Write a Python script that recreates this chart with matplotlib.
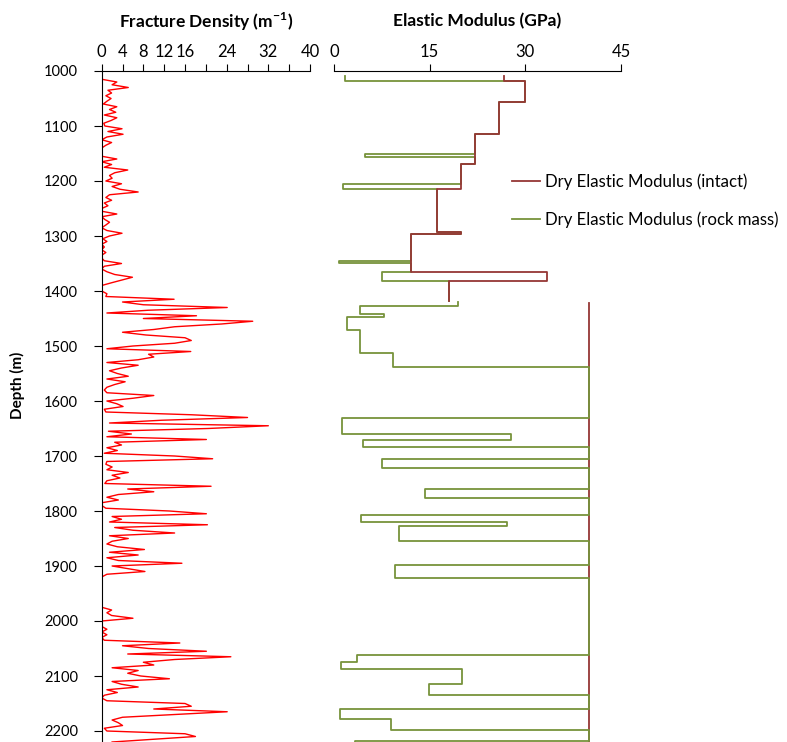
import numpy as np
import matplotlib.pyplot as plt

plt.rcParams['font.family'] = ['Lato', 'DejaVu Sans']
plt.rcParams['mathtext.fontset'] = 'custom'
plt.rcParams['mathtext.rm'] = 'Lato'
plt.rcParams['mathtext.bf'] = 'Lato:bold'

# fracture density (1/m), sampled every 5 m from 1010 m
frac_depth = np.arange(1010, 2225, 5)
frac_density = [
    0, 0, 2.9, 2.0, 5.1, 1.2, 1.9, 0.8, 1.8, 1.0,
    0.3, 2.9, 1.5, 2.7, 0.5, 2.9, 1.8, 0.4, 0.6, 3.9,
    1.2, 4.1, 1.0, 0, 1.9, 0.8, 0, 0, 0, 0,
    2.9, 0, 1.9, 0.5, 5.0, 2.5, 1.5, 2.0, 0.8, 3.8,
    2.0, 3.5, 7.0, 1.5, 0.8, 1.9, 0.5, 1.2, 0, 0,
    2.9, 0, 0.6, 1.5, 0.8, 0, 1.0, 3.9, 1.5, 0.2,
    1.0, 0, 0.5, 0, 0.8, 0, 0, 0.5, 3.8, 0.5,
    0, 1.0, 2.5, 5.9, 3.9, 1.9, 0, 0, 0, 1.0,
    0.8, 13.9, 4.0, 8.0, 24.1, 8.9, 1.0, 18.2, 8.0, 29.0,
    23.0, 14.0, 10.0, 4.0, 8.5, 16.0, 17.2, 14.0, 6.0, 1.0,
    17.1, 9.0, 10.0, 7.0, 1.0, 7.0, 3.8, 1.5, 3.0, 5.1,
    1.0, 4.5, 2.5, 1.0, 0.5, 1.0, 10.0, 6.0, 1.0, 2.9,
    4.1, 0.5, 0.8, 17.2, 28.0, 11.5, 1.5, 32.0, 20.4, 1.3,
    5.7, 1.0, 20.1, 2.5, 3.8, 1.0, 3.0, 0.5, 14.0, 21.3,
    1.0, 0.8, 2.0, 1.0, 5.1, 2.0, 3.5, 1.0, 0.6, 21.0,
    5.0, 10.0, 3.2, 1.0, 3.2, 0, 0, 0.8, 13.0, 20.1,
    2.0, 3.8, 1.5, 20.3, 2.5, 6.0, 14.0, 1.5, 5.1, 2.0,
    1.0, 3.0, 8.2, 1.5, 7.0, 1.0, 3.2, 15.4, 2.0, 5.1,
    8.3, 1.0, 0, 0, 0, 0, 0, 0, 0, 0,
    0, 0, 0, 0, 1.9, 1.0, 1.9, 6.0, 0, 0,
    0, 1.0, 0, 1.0, 0, 0.5, 15.0, 4.0, 9.0, 20.1,
    5.0, 24.8, 14.0, 8.0, 10.0, 2.0, 7.0, 5.0, 7.5, 13.0,
    2.0, 3.8, 7.0, 1.0, 3.0, 0.5, 0, 1.0, 16.0, 17.2,
    10.0, 24.1, 14.2, 4.0, 2.0, 3.2, 4.0, 0.5, 1.0, 16.0,
    18.0, 10.0, 2.0,
]

# dry elastic modulus (GPa): interval tops, values, last bottom
intact_top = [1009, 1018, 1057, 1115, 1169, 1215, 1292, 1297, 1365, 1382]
intact_val = [26.6, 30, 25.8, 22.1, 19.9, 16.1, 19.9, 12.0, 33.4, 18.1]
intact_end = 1418
intact2_top = [1421]
intact2_val = [40]
intact2_end = 2240

mass_top = [1009, 1018, 1057, 1115, 1150, 1156, 1169, 1205, 1215, 1292,
            1297, 1346, 1349, 1365, 1382]
mass_val = [1.8, 30, 25.8, 22.1, 4.9, 22.1, 19.9, 1.4, 16.1, 19.9,
            12.0, 0.8, 12.0, 7.6, 18.1]
mass_end = 1418
mass2_top = [1420, 1428, 1442, 1447, 1471, 1512, 1538, 1630, 1660, 1670,
             1683, 1705, 1722, 1760, 1777, 1808, 1820, 1828, 1855, 1898,
             1921, 2062, 2074, 2087, 2115, 2135, 2160, 2179, 2198, 2218]
mass2_val = [19.5, 4.0, 7.8, 2.0, 4.0, 9.2, 40, 1.2, 27.7, 4.5,
             40, 7.6, 40, 14.3, 40, 4.2, 27.1, 10.2, 40, 9.6,
             40, 3.6, 1.1, 20.1, 14.9, 40, 1.0, 9.0, 40, 3.3]
mass2_end = 2240


def steps(tops, vals, end):
    d = np.append(tops, end)
    return np.repeat(vals, 2), np.repeat(d, 2)[1:-1]


fig = plt.figure(figsize=(7.87, 7.42), dpi=100)
ax1 = fig.add_axes([101.7 / 787, 0, 208.3 / 787, 671 / 742])
ax2 = fig.add_axes([334 / 787, 0, 287 / 787, 671 / 742])

ax1.plot(frac_density, frac_depth, color='#ff0000', lw=1.0)
ax1.set_xlim(0, 40)
ax1.set_xticks(np.arange(0, 41, 4))
ax1.set_xticklabels(['0', '4', '8', '12', '16', '', '24', '', '32', '', '40'])
ax1.set_ylim(2220, 1000)
ax1.set_yticks(np.arange(1000, 2201, 100))
for s in ['right', 'bottom']:
    ax1.spines[s].set_visible(False)
ax1.xaxis.tick_top()
ax1.tick_params(axis='x', length=5, pad=3, labelsize=12)
ax1.tick_params(axis='y', length=6, pad=11, labelsize=10.5)
ax1.text(0.5, 1.074, r'Fracture Density (m$^{\mathbf{-1}}$)', transform=ax1.transAxes,
         ha='center', va='center', fontsize=12.5, fontweight='bold')
ax1.set_ylabel('Depth (m)', fontsize=11, fontweight='bold')
ax1.yaxis.set_label_coords(-0.37, 0.532)

x, y = steps(intact2_top, intact2_val, intact2_end)
ax2.plot(x, y, color='#953735', lw=1.3, zorder=1)
x, y = steps(mass_top, mass_val, mass_end)
ax2.plot(x, y, color='#77933c', lw=1.3, zorder=2)
x, y = steps(mass2_top, mass2_val, mass2_end)
l2, = ax2.plot(x, y, color='#77933c', lw=1.3, zorder=2)
x, y = steps(intact_top, intact_val, intact_end)
l1, = ax2.plot(x, y, color='#953735', lw=1.3, zorder=3)
ax2.set_xlim(0, 45)
ax2.set_xticks([0, 15, 30, 45])
ax2.set_ylim(2220, 1000)
ax2.set_yticks([])
for s in ['left', 'right', 'bottom']:
    ax2.spines[s].set_visible(False)
ax2.xaxis.tick_top()
ax2.tick_params(axis='x', length=5, pad=3, labelsize=12)
ax2.text(0.5, 1.074, 'Elastic Modulus (GPa)', transform=ax2.transAxes,
         ha='center', va='center', fontsize=12.5, fontweight='bold')

fig.legend([l1, l2], ['Dry Elastic Modulus (intact)', 'Dry Elastic Modulus (rock mass)'],
           loc='upper left', bbox_to_anchor=(512 / 787, 1 - 173 / 742), frameon=False,
           fontsize=12.1, handlelength=1.65, handletextpad=0.3, labelspacing=1.32,
           borderpad=0, borderaxespad=0)

fig.savefig('out.png', dpi=100)
